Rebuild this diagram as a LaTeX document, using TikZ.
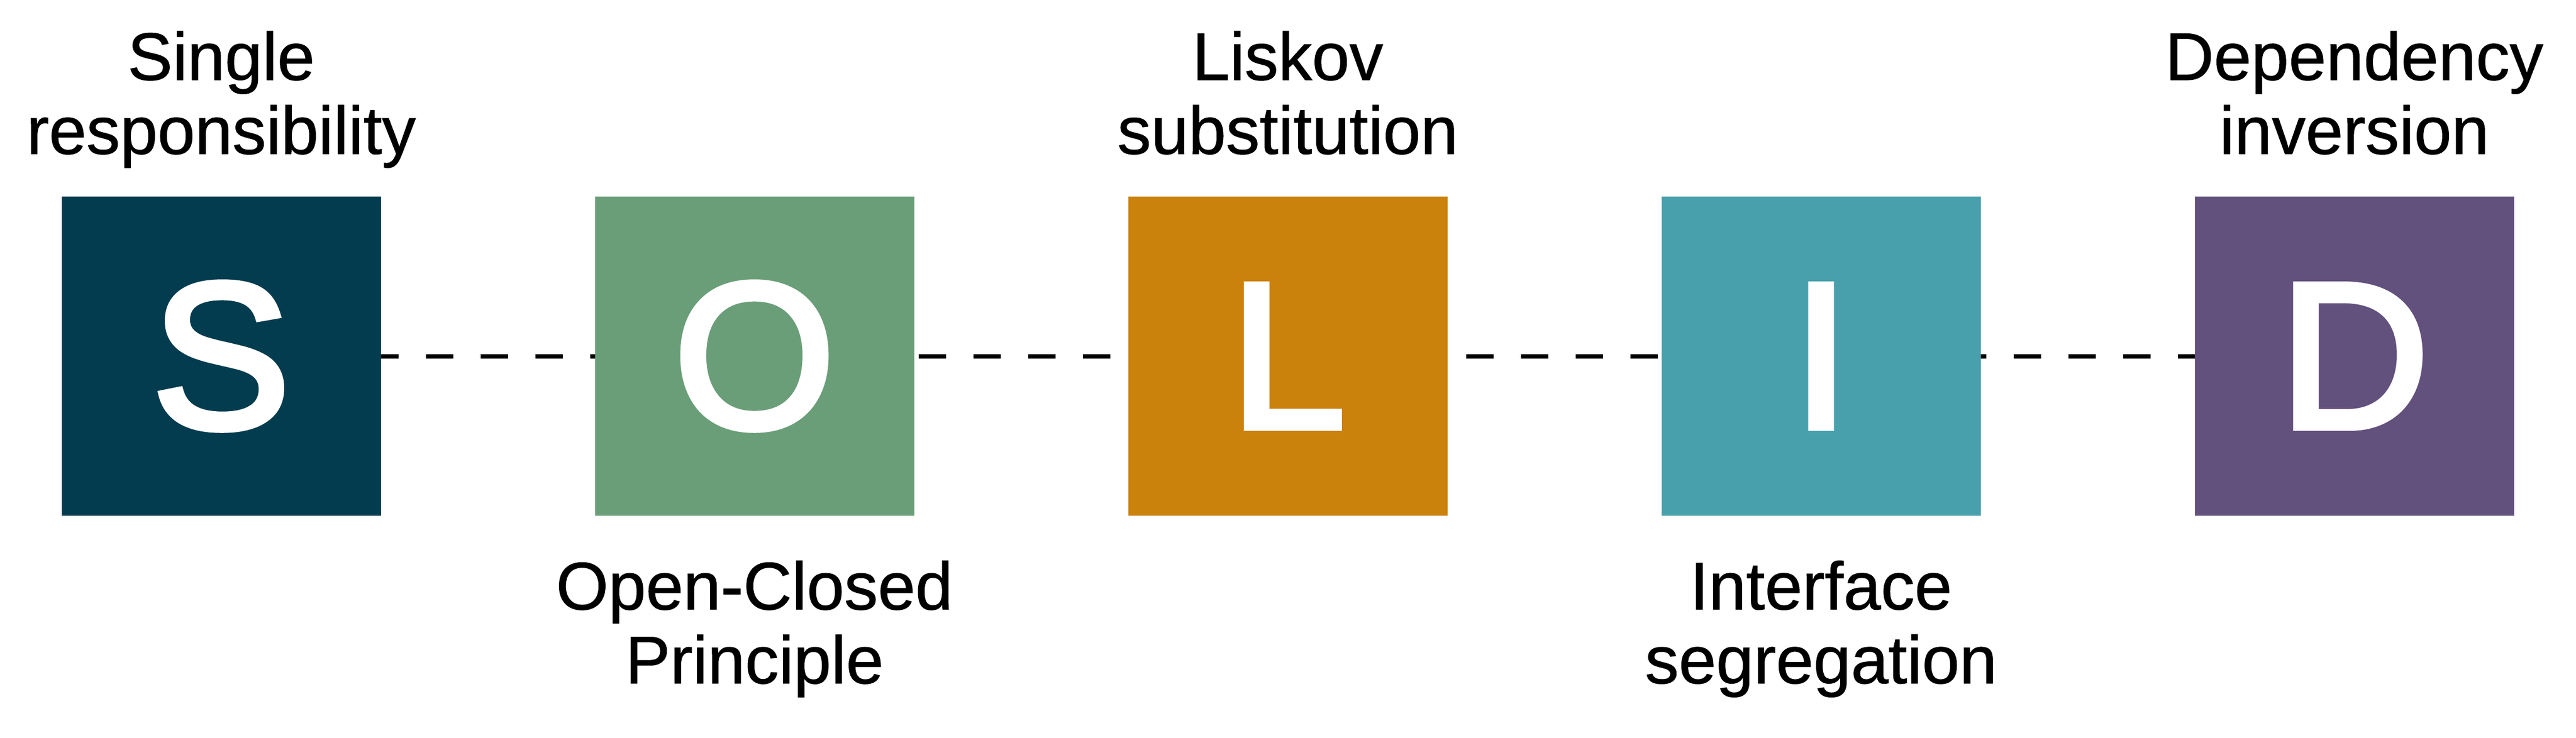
\documentclass[tikz,border=0pt]{standalone}
\usepackage{fontspec}
\setmainfont{Liberation Sans}
\newfontfamily\glyphfont[FakeBold=3]{Liberation Sans}
\newfontfamily\labelfont[FakeBold=0.8]{Liberation Sans}
\usetikzlibrary{positioning,backgrounds}

\definecolor{sColor}{HTML}{043C4F}
\definecolor{oColor}{HTML}{6A9E78}
\definecolor{lColor}{HTML}{CB820C}
\definecolor{iColor}{HTML}{48A0AC}
\definecolor{dColor}{HTML}{62507D}

\begin{document}
\begin{tikzpicture}[
	node distance=39.1pt,
	letterbox/.style={minimum size=58.3pt,inner sep=0pt,outer sep=0pt,fill=#1,text=white,font=\glyphfont\fontsize{38pt}{40pt}\selectfont},
	principle/.style={align=center,inner sep=0pt,outer sep=0pt,font=\labelfont\fontsize{12.3pt}{13.5pt}\selectfont},
	toplabel/.style={principle,text depth=0pt}]
\useasboundingbox (0,0) rectangle (470.5pt,134.7pt);

\node[letterbox=sColor] (S) at (40.4pt,69.65pt) {S};
\node[letterbox=oColor,right=of S] (O) {O};
\node[letterbox=lColor,right=of O] (L) {L};
\node[letterbox=iColor,right=of L] (I) {I};
\node[letterbox=dColor,right=of I] (D) {D};

\node[toplabel,above=7.8pt of S] (single) {Single\\responsibility};
\node[toplabel,above=7.8pt of L] (liskov) {Liskov\\substitution};
\node[toplabel,above=7.8pt of D] (dependency) {Dependency\\inversion};
\node[principle,below=8.2pt of O] (openclosed) {Open-Closed\\Principle};
\node[principle,below=8.2pt of I] (interface) {Interface\\segregation};

\begin{scope}[on background layer]
\draw[line width=0.8pt,dash pattern=on 5pt off 5pt,dash phase=2.65pt] (S.center) -- (D.center);
\end{scope}

\end{tikzpicture}
\end{document}
